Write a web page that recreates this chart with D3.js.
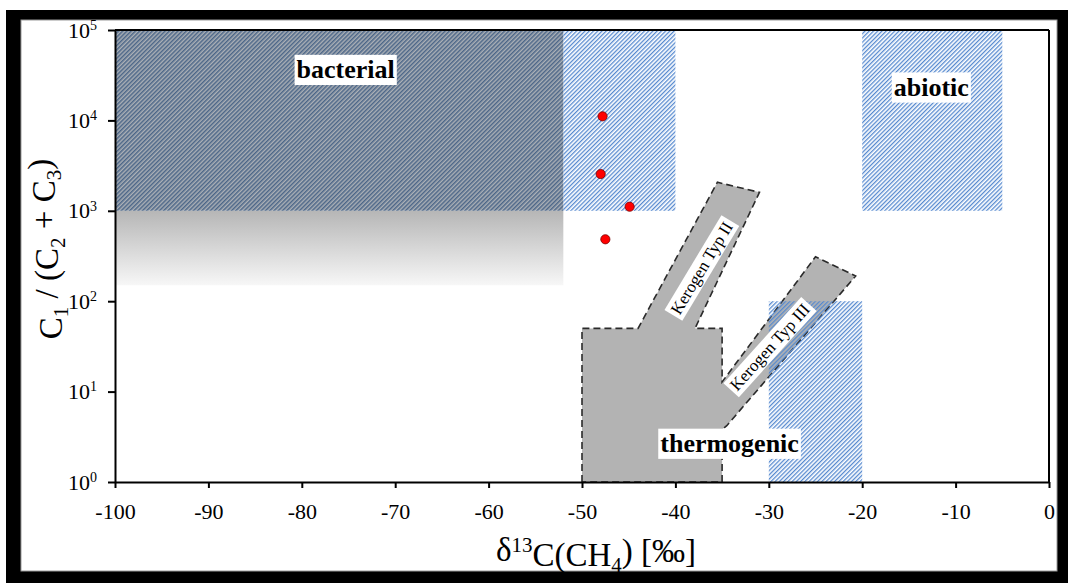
<!DOCTYPE html>
<html>
<head>
<meta charset="utf-8">
<script src="https://cdn.jsdelivr.net/npm/d3@7"></script>
<style>
  html, body { margin: 0; padding: 0; background: #fff; }
  svg { display: block; font-family: "Liberation Serif", "Times New Roman", serif; }
</style>
</head>
<body>
<svg id="chart" width="1068" height="583"></svg>
<script>
// δ13C(CH4) versus C1/(C2+C3) genetic classification diagram (Bernard-type)
const xTicks = [-100, -90, -80, -70, -60, -50, -40, -30, -20, -10, 0];
const yTicks = [1, 10, 100, 1000, 10000, 100000];

// measured samples
const sampleDelta = [-47.8, -48.0, -44.9, -47.5];
const sampleRatio = [11100, 2550, 1110, 484];

// bacterial field (dark hatch) and its fading transition zone
const bacterialX = [-100, -52];
const bacterialY = [1000, 100000];
const transitionY = [150, 1000];

// light hatched fields: [x0, x1] x [y0, y1]
const hatchX0 = [-52, -20, -30];
const hatchX1 = [-40, -5, -20];
const hatchY0 = [1000, 1000, 1];
const hatchY1 = [100000, 100000, 100];

// thermogenic field with kerogen type II / III maturation paths
const thermoX = [-50, -50, -44, -35.5, -31, -37.9, -35, -35, -25, -20.7, -34.5, -35, -35];
const thermoY = [1, 50, 50, 2070, 1600, 50, 50, 12.8, 310, 190, 4.2, 3.8, 1];

// field labels
const fieldNames = ["bacterial", "abiotic", "thermogenic"];
const fieldX = [-75.3, -12.6, -34.2];
const fieldY = [36500, 23300, 2.67];

// kerogen path labels (rotated along the paths)
const kerogenNames = ["Kerogen Typ II", "Kerogen Typ III"];
const kerogenX = [-37.2, -29.9];
const kerogenY = [233, 31.1];
const kerogenAngle = [-59, -48];

const FONT = "Liberation Serif, Times New Roman, serif";
const svg = d3.select("#chart");

// outer frame
svg.append("rect").attr("x", 6).attr("y", 10).attr("width", 1062).attr("height", 573).attr("fill", "#000");
svg.append("rect").attr("x", 21).attr("y", 20).attr("width", 1036).attr("height", 551)
  .attr("fill", "#fff").attr("stroke", "#9a9a9a").attr("stroke-width", 1);

const x = d3.scaleLinear().domain([-100, 0]).range([115, 1049]);
const y = d3.scaleLog().domain([1, 100000]).range([482, 30]);

const defs = svg.append("defs");
function hatch(id, bg, line, w) {
  const p = defs.append("pattern").attr("id", id)
    .attr("patternUnits", "userSpaceOnUse")
    .attr("width", 3).attr("height", 3)
    .attr("patternTransform", "rotate(45)");
  if (bg) p.append("rect").attr("width", 3).attr("height", 3).attr("fill", bg);
  p.append("rect").attr("x", 0).attr("y", 0).attr("width", w).attr("height", 3).attr("fill", line);
}
hatch("hatchDark", "#abb0b6", "#4c6688", 1.5);
hatch("hatchLight", null, "#5689cf", 1.3);

const grad = defs.append("linearGradient").attr("id", "fade")
  .attr("x1", 0).attr("y1", 0).attr("x2", 0).attr("y2", 1);
grad.append("stop").attr("offset", "0%").attr("stop-color", "#b6b6b6");
grad.append("stop").attr("offset", "100%").attr("stop-color", "#f7f7f7");

const plot = svg.append("g");

// transition zone below the bacterial field
plot.append("rect")
  .attr("x", x(bacterialX[0]) + 1).attr("y", y(transitionY[1]))
  .attr("width", x(bacterialX[1]) - x(bacterialX[0]) - 1)
  .attr("height", y(transitionY[0]) - y(transitionY[1]))
  .attr("fill", "url(#fade)");

// bacterial field
plot.append("rect")
  .attr("x", x(bacterialX[0])).attr("y", y(bacterialY[1]))
  .attr("width", x(bacterialX[1]) - x(bacterialX[0]))
  .attr("height", y(bacterialY[0]) - y(bacterialY[1]))
  .attr("fill", "url(#hatchDark)");

// light hatched fields
function drawHatch(i) {
  plot.append("rect")
    .attr("x", x(hatchX0[i])).attr("y", y(hatchY1[i]))
    .attr("width", x(hatchX1[i]) - x(hatchX0[i]))
    .attr("height", y(hatchY0[i]) - y(hatchY1[i]))
    .attr("fill", "url(#hatchLight)");
}
drawHatch(0);
drawHatch(1);

// thermogenic field
const thermoPts = thermoX.map((d, i) => [x(d), y(thermoY[i])]);
plot.append("path")
  .attr("d", d3.line()(thermoPts) + "Z")
  .attr("fill", "#b3b3b3")
  .attr("stroke", "#2a2a2a")
  .attr("stroke-width", 1.6)
  .attr("stroke-dasharray", "7,4");

// lower light hatched field lies over the type III path
drawHatch(2);

// white-boxed labels
function boxedLabel(g, text, size, weight, pad) {
  const t = g.append("text").attr("text-anchor", "middle").attr("dy", "0.34em")
    .attr("font-family", FONT)
    .attr("font-size", size).attr("font-weight", weight).attr("fill", "#000").text(text);
  const b = t.node().getBBox();
  g.insert("rect", "text").attr("x", b.x - pad).attr("y", b.y - pad * 0.3)
    .attr("width", b.width + 2 * pad).attr("height", b.height + pad * 0.6).attr("fill", "#fff");
}

kerogenNames.forEach((name, i) => {
  const g = plot.append("g")
    .attr("transform", `translate(${x(kerogenX[i])},${y(kerogenY[i])}) rotate(${kerogenAngle[i]})`);
  boxedLabel(g, name, 17, "normal", 3);
});

fieldNames.forEach((name, i) => {
  const g = plot.append("g").attr("transform", `translate(${x(fieldX[i])},${y(fieldY[i])})`);
  boxedLabel(g, name, 26, "bold", 2);
});

// samples
plot.selectAll("circle.sample")
  .data(sampleDelta)
  .join("circle")
  .attr("class", "sample")
  .attr("cx", d => x(d))
  .attr("cy", (d, i) => y(sampleRatio[i]))
  .attr("r", 4.6)
  .attr("fill", "#ff0000")
  .attr("stroke", "#7a0000")
  .attr("stroke-width", 0.8);

// frame lines on top and right
svg.append("line").attr("x1", x(-100)).attr("x2", x(0)).attr("y1", y(100000)).attr("y2", y(100000))
  .attr("stroke", "#000").attr("stroke-width", 2);
svg.append("line").attr("x1", x(0)).attr("x2", x(0)).attr("y1", y(100000)).attr("y2", y(1))
  .attr("stroke", "#000").attr("stroke-width", 2);

// axes
const xAxis = svg.append("g").attr("transform", `translate(0,${y(1)})`)
  .call(d3.axisBottom(x).tickValues(xTicks).tickSize(6).tickSizeOuter(0).tickPadding(15)
    .tickFormat(d => d === 0 ? "0" : "-" + Math.abs(d)));
const yAxis = svg.append("g").attr("transform", `translate(${x(-100)},0)`)
  .call(d3.axisLeft(y).tickValues(yTicks).tickSize(7).tickSizeOuter(0).tickPadding(11)
    .tickFormat(() => ""));

[xAxis, yAxis].forEach(a => {
  a.attr("font-family", FONT).attr("font-size", 22);
  a.select(".domain").attr("stroke", "#000").attr("stroke-width", 2);
  a.selectAll(".tick line").attr("stroke", "#000").attr("stroke-width", 2);
  a.selectAll("text").attr("fill", "#000");
});

yAxis.selectAll(".tick text").each(function (d) {
  const t = d3.select(this);
  t.text(null);
  t.append("tspan").text("10");
  t.append("tspan").attr("dy", "-0.55em").attr("font-size", 14).text(Math.round(Math.log10(d)));
});

// axis titles
const xt = svg.append("text").attr("x", 596).attr("y", 561).attr("text-anchor", "middle")
  .attr("font-family", FONT).attr("font-size", 33).attr("fill", "#000");
xt.append("tspan").text("δ");
xt.append("tspan").attr("dy", "-0.42em").attr("font-size", 21).text("13");
xt.append("tspan").attr("dy", "0.42em").text("C(CH");
xt.append("tspan").attr("dy", "0.3em").attr("font-size", 21).text("4");
xt.append("tspan").attr("dy", "-0.3em").text(") [‰]");

const yt = svg.append("text").attr("transform", "translate(62,249) rotate(-90)")
  .attr("text-anchor", "middle").attr("font-family", FONT).attr("font-size", 33).attr("fill", "#000");
yt.append("tspan").text("C");
yt.append("tspan").attr("dy", "0.3em").attr("font-size", 21).text("1");
yt.append("tspan").attr("dy", "-0.3em").text(" / (C");
yt.append("tspan").attr("dy", "0.3em").attr("font-size", 21).text("2");
yt.append("tspan").attr("dy", "-0.3em").text(" + C");
yt.append("tspan").attr("dy", "0.3em").attr("font-size", 21).text("3");
yt.append("tspan").attr("dy", "-0.3em").text(")");
</script>
</body>
</html>
